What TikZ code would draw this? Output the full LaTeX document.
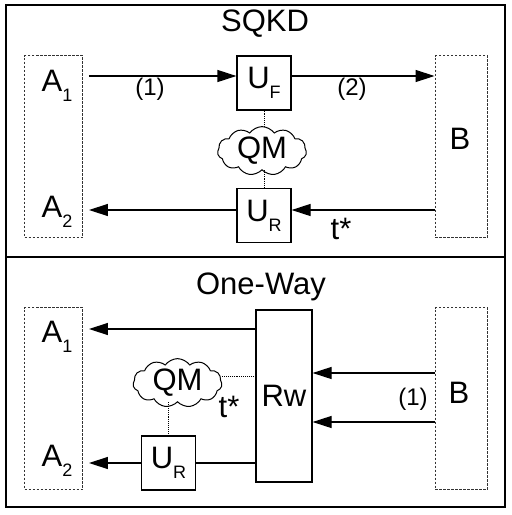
\documentclass[tikz,border=0pt]{standalone}
\usepackage{fontspec}
\setmainfont{Liberation Sans}
\usetikzlibrary{shapes.symbols, arrows.meta}
\usetikzlibrary{positioning}
\usetikzlibrary{calc}
\newcommand{\lowidx}[1]{\raisebox{-10pt}{\fontsize{18}{18}\selectfont #1}}
\tikzset{
panel/.style={
	draw=black,
	line width=2pt
},
party/.style={
	rectangle,
	draw=black!80,
	dash pattern=on 2.5pt off 1.5pt,
	line width=0.9pt,
	minimum height=182pt,
	inner sep=0pt
},
unit/.style={
	rectangle,
	draw=black,
	line width=1.2pt,
	minimum width=54pt,
	minimum height=54pt,
	inner sep=0pt,
	font=\fontsize{31}{36}\selectfont
},
qm/.style={
	cloud,
	cloud puffs=11,
	cloud puff arc=110,
	aspect=2,
	draw=black,
	line width=1pt,
	inner sep=0pt,
	minimum width=89pt,
	minimum height=46pt,
	font=\fontsize{31}{36}\selectfont
},
txt/.style={
	inner sep=0pt,
	font=\fontsize{31}{36}\selectfont
},
lbl/.style={
	inner sep=0pt,
	font=\fontsize{24}{28}\selectfont
},
arrow/.style={
	-{Triangle[length=19pt,width=12pt]},
	line width=1.2pt
},
plain/.style={
	line width=1.2pt
},
link/.style={
	densely dotted,
	line width=0.9pt
}
}
\begin{document}
\begin{tikzpicture}[x=1pt, y=-1pt]
\useasboundingbox (0,0) rectangle (512,515);
% ===== Panels =====
\draw[panel] (6,5) rectangle (505,257);
\draw[panel] (6,257) rectangle (505,507);

% ===== SQKD (top panel) =====
\node (ttop)   [txt]                        at (265,24)    {SQKD};
\node (alice1) [party, minimum width=58pt]  at (53.5,146.5) {};
\node (bob1)   [party, minimum width=52pt]  at (461,146.5) {};
\node (a1top)  [txt]                        at (57,86)     {A\lowidx{1}};
\node (a2top)  [txt]                        at (57,212)    {A\lowidx{2}};
\node (btop)   [txt]                        at (460,139)   {B};
\node (uf)     [unit]                       at (264,83)    {U\lowidx{F}};
\node (ur)     [unit]                       at (264,215.5) {U\lowidx{R}};
\node (qm1)    [qm]                         at (262,151)   {QM};
\node (one)    [lbl]                        at (150,89)    {(1)};
\node (two)    [lbl]                        at (352,89)    {(2)};
\node (tstar1) [txt]                        at (341,229)   {t*};

\draw [arrow] ($(alice1.east |- uf.west)+(6,-7)$) -- ($(uf.west)+(0,-7)$);
\draw [arrow] ($(uf.east)+(0,-7)$) -- ($(bob1.west |- uf.east)+(0,-7)$);
\draw [arrow] ($(bob1.west |- ur.east)+(0,-5.5)$) -- ($(ur.east)+(0,-5.5)$);
\draw [arrow] ($(ur.west)+(0,-5.5)$) -- ($(alice1.east |- ur.west)+(6,-5.5)$);
\draw [link] (uf.south) -- (uf.south |- qm1.north);
\draw [link] (ur.north) -- (ur.north |- qm1.south);

% ===== One-Way (bottom panel) =====
\node (tbot)   [txt]                        at (261,287)   {One-Way};
\node (alice2) [party, minimum width=58pt]  at (53.5,398.5) {};
\node (bob2)   [party, minimum width=52pt]  at (461,398.5) {};
\node (a1bot)  [txt]                        at (57,337)    {A\lowidx{1}};
\node (a2bot)  [txt]                        at (57,461)    {A\lowidx{2}};
\node (bbot)   [txt]                        at (459,393)   {B};
\node (rw)     [unit, minimum width=56pt, minimum height=172pt] at (284,396) {Rw};
\node (ur2)    [unit]                       at (168.5,463) {U\lowidx{R}};
\node (qm2)    [qm]                         at (177.5,383) {QM};
\node (onebot) [lbl]                        at (413,399)   {(1)};
\node (tstar2) [txt]                        at (229,407)   {t*};

\draw [arrow] ($(rw.west)+(0,-67)$) -- ($(alice2.east |- rw.west)+(6,-67)$);
\draw [arrow] ($(bob2.west)+(0,-25.5)$) -- ($(rw.east |- bob2.west)+(0,-25.5)$);
\draw [arrow] ($(bob2.west)+(0,23.5)$) -- ($(rw.east |- bob2.west)+(0,23.5)$);
\draw [plain] (rw.west |- ur2.east) -- (ur2.east);
\draw [arrow] (ur2.west) -- ($(alice2.east |- ur2.west)+(6,0)$);
\draw [link] ($(qm2.east)+(0,-7)$) -- ($(rw.west |- qm2.east)+(0,-7)$);
\draw [link] (ur2.north) -- (ur2.north |- qm2.south);

\end{tikzpicture}
\end{document}
